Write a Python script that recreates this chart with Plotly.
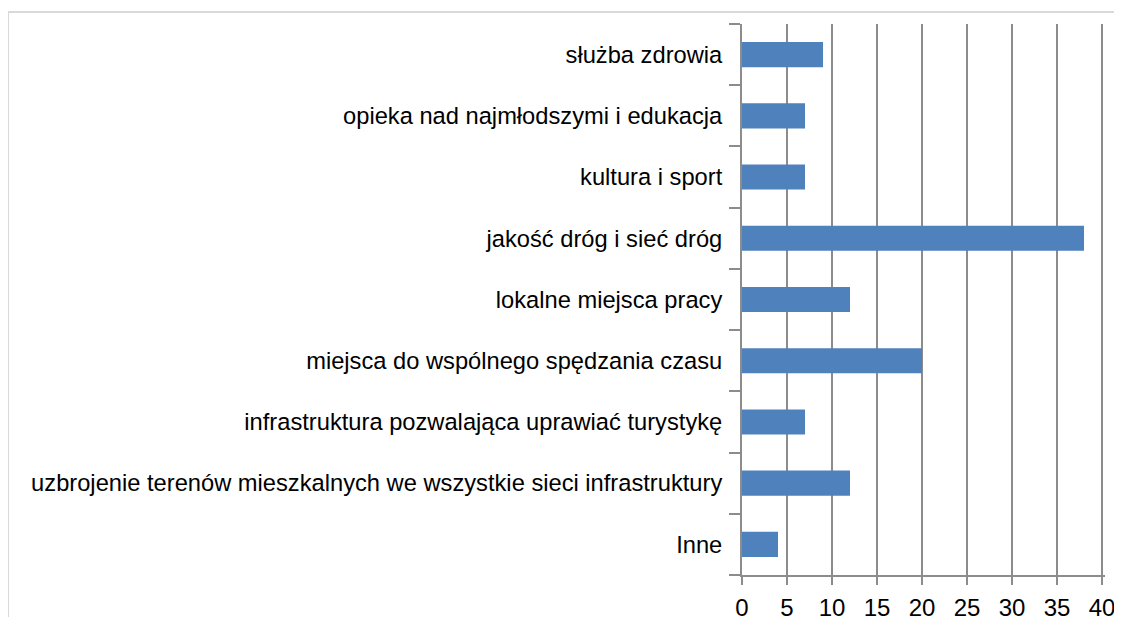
import plotly.graph_objects as go

categories = [
    "służba zdrowia",
    "opieka nad najmłodszymi i edukacja",
    "kultura i sport",
    "jakość dróg i sieć dróg",
    "lokalne miejsca pracy",
    "miejsca do wspólnego spędzania czasu",
    "infrastruktura pozwalająca uprawiać turystykę",
    "uzbrojenie terenów mieszkalnych we wszystkie sieci infrastruktury",
    "Inne",
]
values = [9, 7, 7, 38, 12, 20, 7, 12, 4]
x_ticks = [0, 5, 10, 15, 20, 25, 30, 35, 40]

FONT = "Liberation Sans Narrow, Arial Narrow, sans-serif"

# page body has an 8px default margin; figure sized to fit the 1122x625 window
W, H = 1106, 609
L, T = 734, 16
PW, PH = 363, 551

fig = go.Figure(go.Bar(
    x=values, y=categories, orientation="h",
    marker=dict(color="#4F81BD", line=dict(width=0)),
))

fig.update_layout(
    width=W, height=H,
    margin=dict(l=L, r=W - L - PW, t=T, b=H - T - PH, pad=0, autoexpand=False),
    plot_bgcolor="white", paper_bgcolor="white",
    bargap=0.59,
    showlegend=False,
    font=dict(family=FONT, size=24, color="#000000"),
    shapes=[dict(type="rect", xref="paper", yref="paper",
                 x0=-L / PW, x1=1.2, y0=-0.3, y1=(PH + 12) / PH,
                 line=dict(color="#D9D9D9", width=2), fillcolor="rgba(0,0,0,0)",
                 layer="below")],
)
fig.update_xaxes(
    range=[0, 40.33], tickvals=x_ticks, ticktext=[str(v) for v in x_ticks],
    showgrid=True, gridcolor="#8C8C8C", gridwidth=2,
    showline=True, linecolor="#8C8C8C", linewidth=2,
    ticks="outside", ticklen=8, tickcolor="#8C8C8C", tickwidth=2,
    ticklabelstandoff=2, ticklabeloverflow="allow", automargin=False,
    zeroline=False, tickfont=dict(size=24, family=FONT),
)
fig.update_yaxes(
    categoryorder="array", categoryarray=categories[::-1],
    showline=True, linecolor="#8C8C8C", linewidth=2,
    ticks="outside", tickson="boundaries", ticklen=11, tickcolor="#8C8C8C", tickwidth=2,
    ticklabelstandoff=13, automargin=False,
    showgrid=False, tickfont=dict(size=23.7, family=FONT),
)

fig.write_html("out.html")
